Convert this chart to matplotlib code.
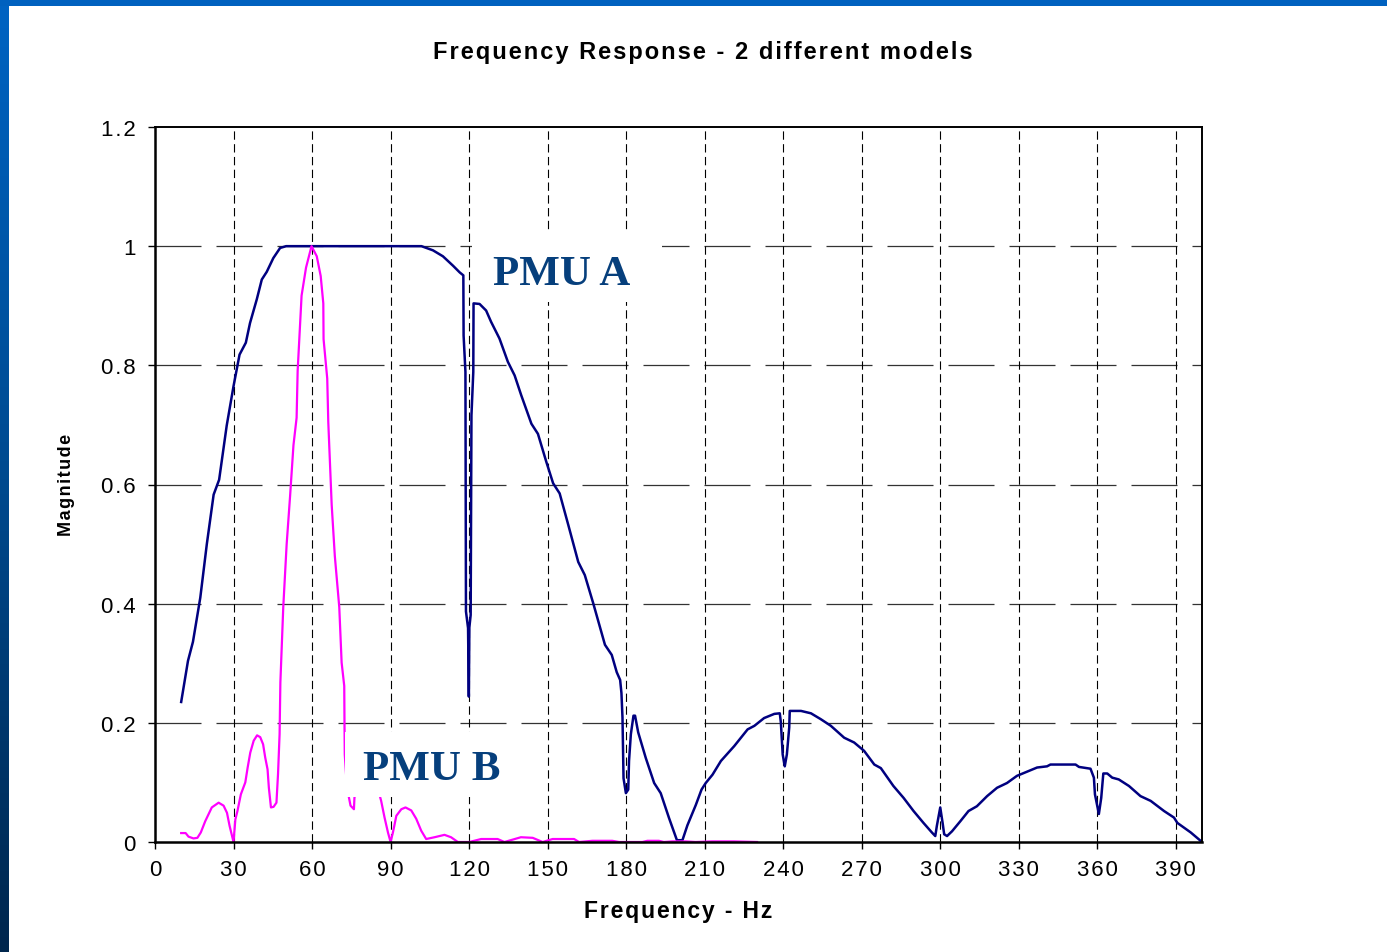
import numpy as np
import matplotlib
matplotlib.use("Agg")
import matplotlib.pyplot as plt
from matplotlib.patches import Rectangle

plt.rcParams['font.family'] = ['Liberation Sans', 'DejaVu Sans']

# --- data (Hz, magnitude) ---
pmu_a_f = [10.0, 12.6, 14.5, 17.3, 19.8, 22.4, 24.5, 27.4, 30.0, 32.3, 34.7, 36.3, 38.9, 40.8,
           42.7, 45.2, 47.8, 50.1, 101.8, 106.2, 110.0, 113.9, 116.4, 117.8, 117.9, 118.6,
           118.8, 119.6, 119.9, 120.1, 120.6, 120.9, 121.6, 121.7, 124.0, 126.5, 128.4, 131.6,
           134.8, 137.4, 139.9, 143.8, 146.3, 149.5, 152.1, 154.6, 157.9, 161.7, 164.2, 167.4,
           171.9, 174.5, 176.4, 177.7, 178.2, 178.6, 179.0, 179.9, 180.8, 181.1, 181.8, 182.8,
           183.4, 184.6, 187.5, 190.7, 193.2, 196.4, 199.4, 201.5, 203.4, 206.6, 208.8, 210.4,
           213.0, 216.2, 221.3, 226.4, 229.0, 232.7, 236.6, 238.7, 239.1, 239.8, 240.6, 241.4,
           242.3, 242.5, 246.8, 250.6, 254.4, 258.2, 263.3, 267.1, 270.9, 274.8, 277.3, 282.1,
           286.0, 289.8, 293.6, 296.8, 298.1, 298.7, 300.0, 300.9, 301.5, 302.6, 304.5, 307.7,
           310.8, 314.0, 317.9, 321.7, 325.5, 329.3, 333.2, 337.0, 340.8, 342.1, 351.7, 353.0,
           357.4, 358.7, 359.1, 360.6, 361.5, 362.3, 363.8, 365.7, 368.2, 372.1, 376.5, 380.4,
           385.5, 389.3, 390.6, 395.7, 400.0]
pmu_a_mag = [0.235, 0.304, 0.336, 0.41, 0.50, 0.583, 0.608, 0.699, 0.765, 0.818, 0.838, 0.871,
             0.911, 0.944, 0.957, 0.980, 0.997, 1.0, 1.0, 0.993, 0.983, 0.967, 0.956, 0.951, 0.85,
             0.789, 0.387, 0.359, 0.244, 0.36, 0.381, 0.716, 0.789, 0.904, 0.903, 0.892, 0.873,
             0.845, 0.806, 0.783, 0.75, 0.702, 0.685, 0.638, 0.602, 0.585, 0.532, 0.470, 0.448,
             0.401, 0.331, 0.314, 0.285, 0.272, 0.25, 0.209, 0.107, 0.082, 0.088, 0.136, 0.181,
             0.212, 0.212, 0.184, 0.141, 0.099, 0.082, 0.040, 0.003, 0.003, 0.028, 0.062, 0.088,
             0.099, 0.113, 0.136, 0.161, 0.189, 0.195, 0.208, 0.215, 0.216, 0.201, 0.147, 0.127,
             0.147, 0.192, 0.220, 0.220, 0.216, 0.206, 0.195, 0.175, 0.167, 0.153, 0.130, 0.124,
             0.094, 0.074, 0.052, 0.032, 0.016, 0.010, 0.027, 0.058, 0.032, 0.013, 0.010, 0.018,
             0.035, 0.052, 0.060, 0.077, 0.091, 0.099, 0.111, 0.118, 0.125, 0.127, 0.130, 0.130,
             0.126, 0.123, 0.108, 0.080, 0.047, 0.074, 0.115, 0.115, 0.108, 0.105, 0.094, 0.077,
             0.069, 0.052, 0.041, 0.032, 0.016, 0.0]

pmu_b_f = [10.0, 11.7, 12.8, 14.7, 16.2, 17.5, 19.2, 21.7, 24.3, 26.2, 27.5, 28.5, 30.0, 30.7,
           31.5, 32.8, 34.5, 35.4, 36.4, 37.7, 39.0, 40.2, 41.3, 42.1, 43.0, 43.5, 44.3, 45.3,
           46.4, 47.0, 47.6, 47.9, 49.0, 50.3, 51.6, 52.9, 54.1, 54.5, 56.0, 57.7, 59.8, 61.8,
           63.3, 64.3, 64.4, 65.8, 66.2, 67.5, 68.7, 70.4, 71.3, 72.3, 72.4, 72.5, 73.2, 74.1,
           74.7, 76.0, 76.2, 78.5, 81.5, 84.5, 86.4, 87.7, 89.0, 90.0, 90.9, 92.2, 94.1, 95.7,
           97.9, 99.8, 101.7, 103.6, 106.8, 110.6, 113.1, 115.7, 120.1, 124.6, 130.9, 133.5,
           139.8, 144.3, 148.1, 151.9, 160.1, 162.0, 167.1, 174.7, 177.3, 186.2, 188.1, 192.5,
           194.4, 197.6, 202.7, 206.5, 212.9, 221.1, 230.0]
pmu_b_mag = [0.015, 0.015, 0.009, 0.006, 0.007, 0.016, 0.035, 0.058, 0.066, 0.061, 0.049, 0.027,
             0.0, 0.038, 0.052, 0.080, 0.100, 0.125, 0.150, 0.170, 0.179, 0.176, 0.164, 0.142,
             0.122, 0.091, 0.058, 0.059, 0.066, 0.114, 0.181, 0.268, 0.394, 0.5, 0.58, 0.666,
             0.712, 0.791, 0.917, 0.964, 1.0, 0.983, 0.95, 0.904, 0.844, 0.778, 0.705, 0.566,
             0.48, 0.394, 0.301, 0.262, 0.195, 0.147, 0.10, 0.0745, 0.061, 0.055, 0.0745, 0.11,
             0.12, 0.10, 0.069, 0.041, 0.016, 0.0, 0.016, 0.044, 0.055, 0.058, 0.053, 0.039,
             0.019, 0.005, 0.008, 0.012, 0.008, 0.0, 0.0, 0.005, 0.005, 0.0, 0.008, 0.007, 0.0,
             0.005, 0.005, 0.0, 0.002, 0.002, 0.0, 0.0, 0.002, 0.002, 0.0, 0.001, 0.001, 0.0,
             0.001, 0.001, 0.0]

x_ticks = list(range(0, 391, 30))
y_ticks = [0, 0.2, 0.4, 0.6, 0.8, 1, 1.2]
y_labels = ['0', '0.2', '0.4', '0.6', '0.8', '1', '1.2']


def spaced(s):
    # the chart text is letter spaced, fake it with hair spaces
    return '\u200a'.join(s)


fig = plt.figure(figsize=(13.87, 9.53), dpi=100)
fig.patch.set_facecolor('white')

# slide frame: blue band on top, dark gradient on the left
fig.add_artist(Rectangle((0, 1 - 7 / 953), 1, 7 / 953, transform=fig.transFigure,
                         facecolor='#0061bf', edgecolor='none'))
ax_bg = fig.add_axes([0, 0, 9 / 1387, 1 - 7 / 953])
grad = np.linspace(0, 1, 256).reshape(-1, 1)
ax_bg.imshow(grad, aspect='auto', cmap=matplotlib.colors.LinearSegmentedColormap.from_list(
    'frame', ['#00264d', '#004a8f', '#0063c2']), origin='lower')
ax_bg.axis('off')

ax = fig.add_axes([155 / 1387, 110 / 953, 1047 / 1387, 715 / 953])
ax.set_xlim(0, 400)
ax.set_ylim(0, 1.2)

ax.plot(pmu_a_f, pmu_a_mag, color='#000080', lw=1.8, zorder=2)
ax.plot(pmu_b_f, pmu_b_mag, color='#ff00ff', lw=1.6, zorder=2.1)

# white text boxes that hide what is under them
ax.add_patch(Rectangle((121.1, 0.906), 72.6, 0.12, facecolor='white', edgecolor='none', zorder=3))
ax.add_patch(Rectangle((72.7, 0.075), 68.7, 0.11, facecolor='white', edgecolor='none', zorder=3))
ax.text(155.2, 0.936, 'PMU A', family='Liberation Serif', fontweight='bold', fontsize=31,
        color='#063f7c', ha='center', va='baseline', zorder=4)
ax.text(105.6, 0.1057, 'PMU B', family='Liberation Serif', fontweight='bold', fontsize=31,
        color='#063f7c', ha='center', va='baseline', zorder=4)

# grid
for y in y_ticks[1:-1]:
    ax.axhline(y, color='#333333', lw=0.9, linestyle=(0, (36.8, 12)), zorder=1)
for x in x_ticks[1:]:
    ax.axvline(x, color='black', lw=0.8, linestyle=(0, (7.5, 4)), zorder=1)

ax.set_xticks(x_ticks)
ax.set_xticklabels([spaced(str(v)) for v in x_ticks])
ax.set_yticks(y_ticks)
ax.set_yticklabels([spaced(s) for s in y_labels])
ax.tick_params(axis='both', direction='out', length=5, width=1, labelsize=16, colors='black')
ax.tick_params(axis='x', pad=7)
ax.tick_params(axis='y', pad=9)
for side in ['left', 'bottom']:
    ax.spines[side].set_linewidth(1.8)
for side in ['top', 'right']:
    ax.spines[side].set_linewidth(1.4)

fig.text(0.507, 0.9454, spaced('Frequency Response - 2 different models'), ha='center',
         va='center', fontsize=17, fontweight='bold')
fig.text(0.489, 0.044, spaced('Frequency - Hz'), ha='center', va='center', fontsize=16.5,
         fontweight='bold')
fig.text(0.0476, 0.491, spaced('Magnitude'), ha='center', va='center', rotation=90,
         fontsize=13, fontweight='bold')

fig.savefig('out.png', dpi=100)
